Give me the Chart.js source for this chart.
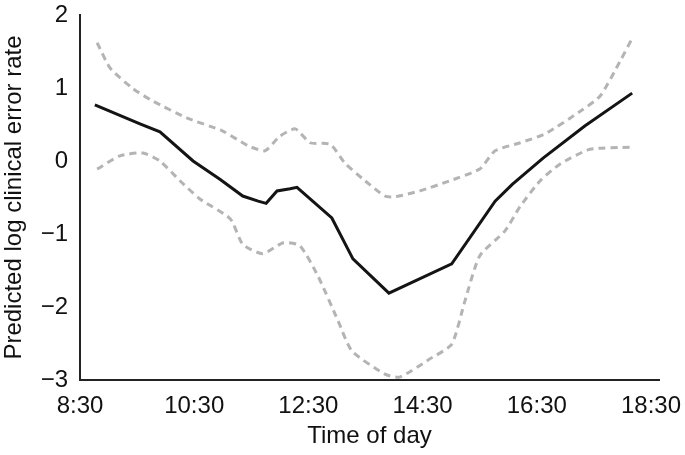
<!DOCTYPE html>
<html>
<head>
<meta charset="utf-8">
<script src="https://cdn.jsdelivr.net/npm/chart.js@4/dist/chart.umd.min.js"></script>
<style>
  html, body { margin: 0; padding: 0; background: #ffffff; }
  #wrap { width: 685px; height: 455px; }
</style>
</head>
<body>
<div id="wrap"><canvas id="c" width="685" height="455"></canvas></div>
<script>
// Time of day in decimal hours
const xTickValues = [8.5, 10.5, 12.5, 14.5, 16.5, 18.5];
const xTickLabels = ['8:30', '10:30', '12:30', '14:30', '16:30', '18:30'];
const yTickValues = [-3, -2, -1, 0, 1, 2];

const predHours = [8.76, 9.55, 9.90, 10.48, 10.95, 11.35, 11.62, 11.76, 11.95, 12.18, 12.30, 12.91, 13.28, 13.91, 15.01, 15.77, 16.07, 16.61, 17.34, 18.17];
const predValues = [0.77, 0.51, 0.40, 0.00, -0.25, -0.48, -0.55, -0.58, -0.41, -0.38, -0.36, -0.78, -1.34, -1.81, -1.41, -0.55, -0.32, 0.04, 0.48, 0.93];

const upperHours = [8.80, 9.03, 9.43, 9.78, 10.37, 11.00, 11.44, 11.74, 12.00, 12.27, 12.53, 12.88, 13.14, 13.49, 13.84, 14.02, 14.45, 14.98, 15.50, 15.77, 16.21, 16.64, 17.26, 17.61, 17.96, 18.17];
const upperValues = [1.62, 1.27, 0.99, 0.82, 0.59, 0.41, 0.21, 0.14, 0.34, 0.44, 0.25, 0.23, -0.03, -0.27, -0.48, -0.49, -0.41, -0.27, -0.11, 0.14, 0.25, 0.37, 0.68, 0.89, 1.37, 1.68];

const lowerHours = [8.80, 9.20, 9.60, 9.90, 10.25, 10.60, 11.13, 11.35, 11.70, 12.06, 12.35, 12.67, 13.02, 13.26, 13.84, 14.10, 14.63, 15.01, 15.24, 15.50, 15.94, 16.21, 16.56, 16.91, 17.43, 18.17];
const lowerValues = [-0.11, 0.07, 0.11, 0.00, -0.27, -0.52, -0.79, -1.14, -1.27, -1.12, -1.16, -1.58, -2.19, -2.60, -2.92, -2.96, -2.71, -2.51, -1.92, -1.30, -0.96, -0.62, -0.27, -0.04, 0.16, 0.19];

const toPoints = (xs, ys) => xs.map((x, i) => ({ x: x, y: ys[i] }));

const FONT = 'Liberation Sans, Arial, Helvetica, sans-serif';
const TEXT = '#111111';
const FSIZE = 24;

new Chart(document.getElementById('c'), {
  type: 'line',
  data: {
    datasets: [
      {
        label: 'Upper limit',
        data: toPoints(upperHours, upperValues),
        borderColor: '#b4b4b4',
        borderWidth: 3,
        borderDash: [7, 5],
        pointRadius: 0,
        tension: 0.2,
        fill: false
      },
      {
        label: 'Lower limit',
        data: toPoints(lowerHours, lowerValues),
        borderColor: '#b4b4b4',
        borderWidth: 3,
        borderDash: [7, 5],
        pointRadius: 0,
        tension: 0.2,
        fill: false
      },
      {
        label: 'Predicted',
        data: toPoints(predHours, predValues),
        borderColor: '#141414',
        borderWidth: 3,
        pointRadius: 0,
        tension: 0,
        fill: false
      }
    ]
  },
  options: {
    responsive: false,
    animation: false,
    layout: { padding: { top: 15, right: 0, left: 0, bottom: 0 } },
    plugins: {
      legend: { display: false },
      tooltip: { enabled: false }
    },
    scales: {
      x: {
        type: 'linear',
        min: 8.5,
        max: 18.64,
        afterBuildTicks: (scale) => { scale.ticks = xTickValues.map(v => ({ value: v })); },
        afterFit: (scale) => { scale.height = 75; scale.paddingRight = 26; scale.paddingLeft = 0; },
        grid: { display: false, drawTicks: false },
        border: { display: true, color: '#222222', width: 2 },
        ticks: {
          padding: 12,
          maxRotation: 0,
          autoSkip: false,
          color: TEXT,
          font: { family: FONT, size: FSIZE },
          callback: (v) => { const i = xTickValues.indexOf(v); return i >= 0 ? xTickLabels[i] : ''; }
        },
        title: {
          display: true,
          text: 'Time of day',
          color: TEXT,
          font: { family: FONT, size: FSIZE },
          padding: { top: 0, bottom: 4 }
        }
      },
      y: {
        type: 'linear',
        min: -3,
        max: 2,
        afterBuildTicks: (scale) => { scale.ticks = yTickValues.map(v => ({ value: v })); },
        afterFit: (scale) => { scale.width = 80; scale.paddingTop = 0; scale.paddingBottom = 0; },
        grid: { display: false, drawTicks: false },
        border: { display: true, color: '#222222', width: 2 },
        ticks: {
          padding: 12,
          color: TEXT,
          font: { family: FONT, size: FSIZE },
          callback: (v) => (v < 0 ? '\u2212' + Math.abs(v) : String(v))
        },
        title: {
          display: true,
          text: 'Predicted log clinical error rate',
          color: TEXT,
          font: { family: FONT, size: FSIZE },
          padding: { top: 0, bottom: 0 }
        }
      }
    }
  }
});
</script>
</body>
</html>
